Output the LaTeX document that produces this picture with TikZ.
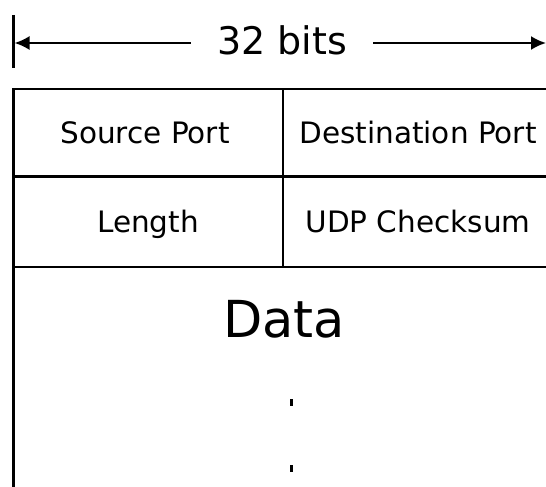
\documentclass[tikz,border=0pt]{standalone}
\usepackage{fontspec}
\setmainfont{DejaVu Sans}
\usetikzlibrary{arrows.meta}
\tikzset{
  rule/.style={line width=2.2pt, line cap=butt},
  cell/.style={font=\fontsize{29.5}{31}\selectfont, inner sep=0pt, anchor=base},
  dotmark/.style={fill=black, draw=none, minimum width=3pt, minimum height=7pt, inner sep=0pt},
  tip/.style={-{Latex[length=15pt,width=14pt]}, line width=2.2pt}
}
\begin{document}
\begin{tikzpicture}[x=1pt,y=-1pt]
\useasboundingbox[fill=white] (0,0) rectangle (546,487);
% width marker
\coordinate (tickT) at (13.5,15);
\coordinate (tickB) at (13.5,68);
\draw[rule] (tickT) -- (tickB);
\node[font=\fontsize{38}{40}\selectfont, inner xsep=26pt, inner ysep=0pt, anchor=base] (bits) at (282,55) {32 bits};
\coordinate (arrL) at (14.5,43);
\coordinate (arrR) at (546,43);
\draw[tip] (bits.west |- arrL) -- (arrL);
\draw[tip] (bits.east |- arrR) -- (arrR);
% table frame
\coordinate (tl) at (13.5,89);
\coordinate (tr) at (560,89);
\coordinate (bl) at (13.5,500);
\coordinate (midT) at (283,89);
\coordinate (midB) at (283,267);
\coordinate (r1L) at (13.5,176.5);
\coordinate (r1R) at (560,176.5);
\coordinate (r2L) at (13.5,267);
\coordinate (r2R) at (560,267);
\coordinate (rightT) at (551,89);
\coordinate (rightB) at (551,500);
\draw[rule] (bl) -- (tl) -- (tr);
\draw[rule] (midT) -- (midB);
\draw[rule] (r1L) -- (r1R);
\draw[rule] (r2L) -- (r2R);
\draw[rule] (rightT) -- (rightB);
% cells
\node[cell] (src) at (145,143) {Source Port};
\node[cell] (dst) at (418,143) {Destination Port};
\node[cell] (len) at (148,232) {Length};
\node[cell] (chk) at (418,232) {UDP Checksum};
\node[font=\fontsize{51}{53}\selectfont, inner sep=0pt, anchor=base] (data) at (284,337) {Data};
\node[dotmark] (dot1) at (291,402) {};
\node[dotmark] (dot2) at (291,468) {};
\end{tikzpicture}
\end{document}
